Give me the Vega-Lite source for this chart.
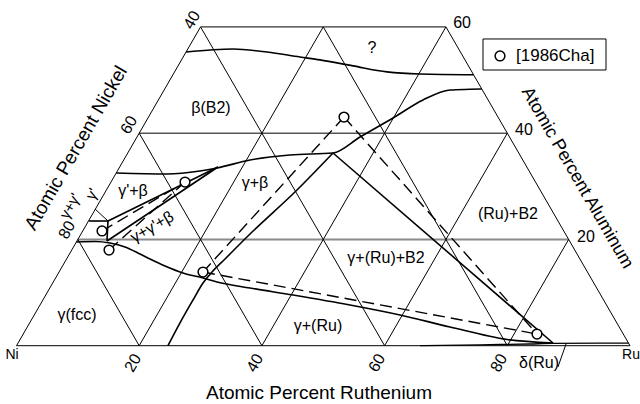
{
  "$schema": "https://vega.github.io/schema/vega-lite/v6.json",
  "width": 640,
  "height": 404,
  "autosize": {"type": "none"},
  "padding": 0,
  "background": "white",
  "config": {"view": {"stroke": null}, "text": {"font": "Liberation Sans", "color": "black"}},
  "datasets": {
    "frame": [
      {"x": 0, "al": 0, "x2": 100, "al2": 0},
      {"x": 0, "al": 0, "x2": 30, "al2": 60},
      {"x": 30, "al": 60, "x2": 70, "al2": 60},
      {"x": 70, "al": 60, "x2": 100, "al2": 0},
      {"x": 20, "al": 40, "x2": 80, "al2": 40},
      {"x": 20, "al": 0, "x2": 50, "al2": 60},
      {"x": 40, "al": 0, "x2": 70, "al2": 60},
      {"x": 60, "al": 0, "x2": 80, "al2": 40},
      {"x": 80, "al": 0, "x2": 90, "al2": 20},
      {"x": 80, "al": 0, "x2": 50, "al2": 60},
      {"x": 60, "al": 0, "x2": 30, "al2": 60},
      {"x": 40, "al": 0, "x2": 20, "al2": 40},
      {"x": 20, "al": 0, "x2": 10, "al2": 20},
      {"x": 12.8, "al": 25.73, "x2": 14.91, "al2": 23.47},
      {"x": 88.26, "al": -4.01, "x2": 89.57, "al2": 0.32}
    ],
    "gray": [
      {"x": 10, "al": 20, "x2": 90, "al2": 20}
    ],
    "solid": [
      {"x": 51.59, "al": 36.27, "x2": 87.45, "al2": 0.51},
      {"x": 14.91, "al": 23.47, "x2": 32.84, "al2": 33.63},
      {"x": 14.75, "al": 19.71, "x2": 32.84, "al2": 33.63},
      {"x": 11.82, "al": 23.47, "x2": 14.91, "al2": 23.47},
      {"x": 14.91, "al": 23.47, "x2": 14.75, "al2": 19.71}
    ],
    "dashed": [
      {"x": 53.38, "al": 43.03, "x2": 30.4, "al2": 13.87},
      {"x": 53.38, "al": 43.03, "x2": 84.84, "al2": 2.2},
      {"x": 30.4, "al": 13.87, "x2": 84.84, "al2": 2.2},
      {"x": 13.94, "al": 21.59, "x2": 27.47, "al2": 30.81},
      {"x": 15.08, "al": 18.01, "x2": 27.47, "al2": 30.81}
    ],
    "curves": [
      {"c": "top", "x": 27.64, "al": 55.28},
      {"c": "top", "x": 35.29, "al": 55.84},
      {"c": "top", "x": 40.83, "al": 55.28},
      {"c": "top", "x": 46.21, "al": 54.34},
      {"c": "top", "x": 49.47, "al": 53.8},
      {"c": "top", "x": 54.85, "al": 52.67},
      {"c": "top", "x": 60.39, "al": 51.54},
      {"c": "top", "x": 65.77, "al": 51.14},
      {"c": "top", "x": 74.5, "al": 51.0},
      {"c": "b2", "x": 16.26, "al": 32.51},
      {"c": "b2", "x": 24.53, "al": 32.32},
      {"c": "b2", "x": 29.91, "al": 32.88},
      {"c": "b2", "x": 32.68, "al": 33.45},
      {"c": "b2", "x": 38.06, "al": 34.95},
      {"c": "b2", "x": 44.58, "al": 35.89},
      {"c": "b2", "x": 51.59, "al": 36.27},
      {"c": "b2", "x": 56.0, "al": 39.28},
      {"c": "b2", "x": 61.37, "al": 42.86},
      {"c": "b2", "x": 66.26, "al": 46.25},
      {"c": "b2", "x": 70.66, "al": 48.13},
      {"c": "b2", "x": 73.92, "al": 48.26},
      {"c": "b2", "x": 75.84, "al": 48.32},
      {"c": "left", "x": 24.69, "al": 0},
      {"c": "left", "x": 26.65, "al": 4.29},
      {"c": "left", "x": 28.77, "al": 8.6},
      {"c": "left", "x": 30.4, "al": 11.8},
      {"c": "left", "x": 31.87, "al": 13.87},
      {"c": "left", "x": 33.99, "al": 16.32},
      {"c": "left", "x": 38.06, "al": 21.02},
      {"c": "left", "x": 45.72, "al": 29.31},
      {"c": "left", "x": 51.59, "al": 36.27},
      {"c": "solvus", "x": 9.76, "al": 19.52},
      {"c": "solvus", "x": 12.8, "al": 19.61},
      {"c": "solvus", "x": 15.24, "al": 19.33},
      {"c": "solvus", "x": 17.69, "al": 18.58},
      {"c": "solvus", "x": 20.13, "al": 17.26},
      {"c": "solvus", "x": 21.76, "al": 16.32},
      {"c": "solvus", "x": 24.21, "al": 15.0},
      {"c": "solvus", "x": 27.14, "al": 13.68},
      {"c": "solvus", "x": 30.4, "al": 12.74},
      {"c": "solvus", "x": 32.68, "al": 11.99},
      {"c": "solvus", "x": 38.06, "al": 10.86},
      {"c": "solvus", "x": 45.07, "al": 9.54},
      {"c": "solvus", "x": 54.36, "al": 7.66},
      {"c": "solvus", "x": 62.51, "al": 5.78},
      {"c": "solvus", "x": 70.66, "al": 3.52},
      {"c": "solvus", "x": 79.95, "al": 1.17},
      {"c": "solvus", "x": 87.45, "al": 0.51}
    ],
    "delta": [
      {"c": "delta", "x": 65.77, "al": 0},
      {"c": "delta", "x": 75.55, "al": 0.17},
      {"c": "delta", "x": 83.7, "al": 0.32},
      {"c": "delta", "x": 87.45, "al": 0.43},
      {"c": "delta", "x": 95.12, "al": 0.47},
      {"c": "delta", "x": 99.76, "al": 0.47}
    ],
    "points": [
      {"x": 53.38, "al": 43.03},
      {"x": 27.47, "al": 30.81},
      {"x": 13.94, "al": 21.59},
      {"x": 15.08, "al": 18.01},
      {"x": 30.4, "al": 13.87},
      {"x": 84.84, "al": 2.2},
      {"x": 78.81, "al": 54.53}
    ],
    "legendbox": [
      {"x": 76.04, "al": 57.73, "x2": 96.09, "al2": 51.89}
    ],
    "legendtext": [
      {"x": 81.42, "al": 54.53, "label": "[1986Cha]"}
    ],
    "labels": [
      {"x": 31.7, "al": 44.74, "label": "β(B2)"},
      {"x": 18.99, "al": 29.12, "label": "γ'+β"},
      {"x": 38.88, "al": 30.62, "label": "γ+β"},
      {"x": 9.86, "al": 5.78, "label": "γ(fcc)"},
      {"x": 49.14, "al": 3.71, "label": "γ+(Ru)"},
      {"x": 60.23, "al": 16.51, "label": "γ+(Ru)+B2"},
      {"x": 80.11, "al": 24.79, "label": "(Ru)+B2"},
      {"x": 85.17, "al": -3.26, "label": "δ(Ru)"},
      {"x": 57.95, "al": 56.03, "label": "?"},
      {"x": 72.62, "al": 60.74, "label": "60"},
      {"x": 82.72, "al": 40.6, "label": "40"},
      {"x": 92.83, "al": 20.46, "label": "20"}
    ],
    "corners": [
      {"x": -0.73, "al": -1.75, "label": "Ni"},
      {"x": 100.16, "al": -1.75, "label": "Ru"}
    ],
    "ticks60": [
      {"x": 28.61, "al": 61.3, "label": "40"},
      {"x": 18.34, "al": 41.54, "label": "60"},
      {"x": 8.23, "al": 21.78, "label": "80"},
      {"x": 18.99, "al": -3.26, "label": "20"},
      {"x": 38.88, "al": -3.26, "label": "40"},
      {"x": 58.76, "al": -3.26, "label": "60"},
      {"x": 78.65, "al": -3.26, "label": "80"}
    ],
    "gammas60": [
      {"x": 8.72, "al": 26.3, "label": "γ+γ'"},
      {"x": 12.31, "al": 28.55, "label": "γ'"}
    ],
    "threephase": [
      {"x": 22.09, "al": 22.34, "label": "γ+γ'+β"}
    ],
    "titleBottom": [
      {"x": 49.31, "al": -8.9, "label": "Atomic Percent Ruthenium"}
    ],
    "titleLeft": [
      {"x": 9.7, "al": 37.21, "label": "Atomic Percent Nickel"}
    ],
    "titleRight": [
      {"x": 91.36, "al": 31.56, "label": "Atomic Percent Aluminum"}
    ]
  },
  "encoding": {
    "x": {"field": "x", "type": "quantitative", "scale": {"domain": [-2.6895, 101.63], "nice": false, "zero": false}, "axis": null},
    "y": {"field": "al", "type": "quantitative", "scale": {"domain": [-10.973, 65.067], "nice": false, "zero": false}, "axis": null}
  },
  "layer": [
    {"data": {"name": "gray"}, "mark": {"type": "rule", "color": "#8a8a8a", "strokeWidth": 2}, "encoding": {"x2": {"field": "x2"}, "y2": {"field": "al2"}}},
    {"data": {"name": "frame"}, "mark": {"type": "rule", "color": "black", "strokeWidth": 1}, "encoding": {"x2": {"field": "x2"}, "y2": {"field": "al2"}}},
    {"data": {"name": "delta"}, "mark": {"type": "line", "color": "black", "strokeWidth": 1.3, "interpolate": "monotone"}, "encoding": {"detail": {"field": "c"}}},
    {"data": {"name": "curves"}, "mark": {"type": "line", "color": "black", "strokeWidth": 1.6, "interpolate": "monotone"}, "encoding": {"detail": {"field": "c"}}},
    {"data": {"name": "solid"}, "mark": {"type": "rule", "color": "black", "strokeWidth": 1.6}, "encoding": {"x2": {"field": "x2"}, "y2": {"field": "al2"}}},
    {"data": {"name": "dashed"}, "mark": {"type": "rule", "color": "black", "strokeWidth": 1.4, "strokeDash": [12, 6]}, "encoding": {"x2": {"field": "x2"}, "y2": {"field": "al2"}}},
    {"data": {"name": "legendbox"}, "mark": {"type": "rect", "fill": "white", "stroke": "black", "strokeWidth": 1}, "encoding": {"x2": {"field": "x2"}, "y2": {"field": "al2"}}},
    {"data": {"name": "points"}, "mark": {"type": "point", "shape": "circle", "filled": false, "fill": "white", "fillOpacity": 1, "stroke": "black", "strokeWidth": 1.5, "size": 95, "opacity": 1}},
    {"data": {"name": "legendtext"}, "mark": {"type": "text", "fontSize": 17, "align": "left", "baseline": "middle"}, "encoding": {"text": {"field": "label"}}},
    {"data": {"name": "labels"}, "mark": {"type": "text", "fontSize": 16, "align": "center", "baseline": "middle"}, "encoding": {"text": {"field": "label"}}},
    {"data": {"name": "corners"}, "mark": {"type": "text", "fontSize": 14, "align": "center", "baseline": "middle"}, "encoding": {"text": {"field": "label"}}},
    {"data": {"name": "ticks60"}, "mark": {"type": "text", "fontSize": 16, "align": "center", "baseline": "middle", "angle": -60}, "encoding": {"text": {"field": "label"}}},
    {"data": {"name": "gammas60"}, "mark": {"type": "text", "fontSize": 15, "align": "center", "baseline": "middle", "angle": -60}, "encoding": {"text": {"field": "label"}}},
    {"data": {"name": "threephase"}, "mark": {"type": "text", "fontSize": 16, "align": "center", "baseline": "middle", "angle": -30}, "encoding": {"text": {"field": "label"}}},
    {"data": {"name": "titleBottom"}, "mark": {"type": "text", "fontSize": 19, "align": "center", "baseline": "middle"}, "encoding": {"text": {"field": "label"}}},
    {"data": {"name": "titleLeft"}, "mark": {"type": "text", "fontSize": 19, "align": "center", "baseline": "middle", "angle": -60}, "encoding": {"text": {"field": "label"}}},
    {"data": {"name": "titleRight"}, "mark": {"type": "text", "fontSize": 18, "align": "center", "baseline": "middle", "angle": 60}, "encoding": {"text": {"field": "label"}}}
  ]
}
